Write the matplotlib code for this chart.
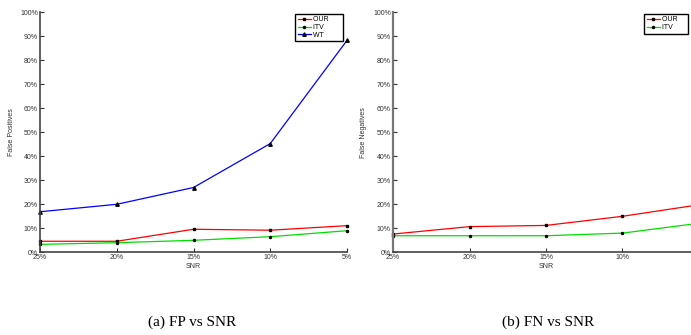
import matplotlib
matplotlib.use("Agg")
import matplotlib.pyplot as plt

snr_labels = ["25%", "20%", "15%", "10%", "5%"]
fp_our = [4.6, 4.6, 9.6, 9.2, 11.1]
fp_itv = [3.3, 4.0, 5.0, 6.5, 9.0]
fp_wt = [16.9, 20.0, 27.0, 45.3, 88.3]
fn_our = [7.6, 10.7, 11.2, 15.0, 19.8]
fn_itv = [6.9, 6.9, 6.9, 8.0, 12.1]
y_ticks = list(range(0, 101, 10))

plt.rcParams['font.family'] = ['Liberation Sans', 'DejaVu Sans']

W, H = 691, 335
fig = plt.figure(figsize=(W / 100, H / 100), dpi=100)

def px_axes(x0, x1, y_top, y_bot):
    return fig.add_axes([x0 / W, 1 - y_bot / H, (x1 - x0) / W, (y_bot - y_top) / H])

def style(ax, ylabel, x0, x1, label_x):
    x = list(range(len(snr_labels)))
    ax.set_xlim(0, len(snr_labels) - 1)
    ax.set_ylim(0, 100)
    ax.set_xticks(x)
    ax.set_xticklabels(snr_labels, fontsize=5, color='#333333')
    ax.set_yticks(y_ticks)
    ax.set_yticklabels([f"{v}%" for v in y_ticks], fontsize=5, color='#333333')
    ax.tick_params(direction='in', length=3, width=0.8, color='#333333', pad=1.5)
    for s in ['top', 'right']:
        ax.spines[s].set_visible(False)
    for s in ['left', 'bottom']:
        ax.spines[s].set_color('#444444')
        ax.spines[s].set_linewidth(1.2)
    ax.set_xlabel("SNR", fontsize=5, color='#333333', labelpad=1.5)
    ax.set_ylabel(ylabel, fontsize=5, color='#333333')
    ax.yaxis.set_label_coords((label_x - x0) / (x1 - x0), 0.5)

def legend(ax, x0, x1, right_px, top_px):
    leg = ax.legend(loc='upper right',
                    bbox_to_anchor=((right_px - x0) / (x1 - x0), 1 + (12.3 - top_px) / 240),
                    borderaxespad=0, fontsize=5,
                    handlelength=1.9, borderpad=0.35, labelspacing=0.1, handletextpad=0.3,
                    fancybox=False, framealpha=1)
    leg.get_frame().set_edgecolor('black')
    leg.get_frame().set_linewidth(1.0)
    return leg

x = list(range(len(snr_labels)))

ax1 = px_axes(40, 347, 12.3, 252.3)
ax1.plot(x, fp_our, color='red', lw=0.9, marker='s', ms=2, mfc='black', mec='black', label='OUR      ', clip_on=False)
ax1.plot(x, fp_itv, color='#00dd00', lw=0.9, marker='.', ms=3, mfc='black', mec='black', label='ITV      ', clip_on=False)
ax1.plot(x, fp_wt, color='blue', lw=0.9, marker='^', ms=2.5, mfc='black', mec='black', label='WT      ', clip_on=False)
style(ax1, "False Positives", 40, 347, 15)
legend(ax1, 40, 347, 343, 14)

ax2 = px_axes(393, 699, 12.3, 252.3)
ax2.plot(x, fn_our, color='red', lw=0.9, marker='s', ms=2, mfc='black', mec='black', label='OUR    ', clip_on=False)
ax2.plot(x, fn_itv, color='#00dd00', lw=0.9, marker='.', ms=3, mfc='black', mec='black', label='ITV    ', clip_on=False)
style(ax2, "False Negatives", 393, 699, 367)
ax2.spines['left'].set_color('#777777')
ax2.spines['left'].set_linewidth(1.6)
ax2.get_xticklabels()[-1].set_visible(False)
legend(ax2, 393, 699, 688, 14)

fig.text(192 / W, 1 - 322 / H, "(a) FP vs SNR", ha='center', va='center', fontsize=11,
         family=['Liberation Serif', 'DejaVu Serif'])
fig.text(548 / W, 1 - 322 / H, "(b) FN vs SNR", ha='center', va='center', fontsize=11,
         family=['Liberation Serif', 'DejaVu Serif'])

fig.savefig("out.png", dpi=100)
